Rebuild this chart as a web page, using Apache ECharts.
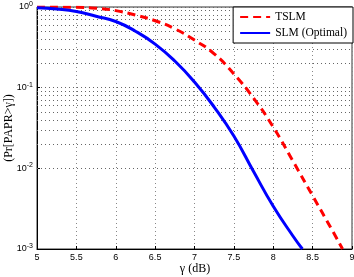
<!DOCTYPE html>
<html>
<head>
<meta charset="utf-8">
<script src="https://cdn.jsdelivr.net/npm/echarts@6/dist/echarts.min.js"></script>
<style>
  html, body { margin: 0; padding: 0; background: #fff; }
  #chart { width: 354px; height: 277px; }
</style>
</head>
<body>
<div id="chart"></div>
<script>
var gammaTslm = [5, 5.5, 5.75, 6, 6.25, 6.5, 6.75, 7, 7.25, 7.5, 7.75, 8, 8.25, 8.5, 8.75, 8.88];
var probTslm = [1.0, 0.991, 0.966, 0.902, 0.794, 0.676, 0.537, 0.389, 0.263, 0.148, 0.0741, 0.0324, 0.0123, 0.00457, 0.0017, 0.001];
var gammaSlm = [5, 5.25, 5.5, 5.75, 6, 6.25, 6.5, 6.75, 7, 7.25, 7.5, 7.75, 8, 8.25, 8.37];
var probSlm = [0.977, 0.944, 0.881, 0.767, 0.661, 0.501, 0.347, 0.214, 0.1175, 0.0575, 0.0251, 0.00912, 0.00339, 0.00145, 0.001];
var yDecades = [0.001, 0.01, 0.1, 1];
var minorMult = [2, 3, 4, 5, 6, 7, 8, 9];
var xTitle = "γ (dB)";
var yTitle = "(Pr[PAPR>γ])";

function pairs(xs, ys) {
  return xs.map(function (x, i) { return [x, ys[i]]; });
}

// minor log grid lines (2..9 x 10^k)
var minorLines = [];
yDecades.slice(0, 3).forEach(function (d) {
  minorMult.forEach(function (m) {
    minorLines.push({ yAxis: d * m });
  });
});

var serif = "'Liberation Serif', 'DejaVu Serif', serif";
var sans = "'Liberation Sans', Arial, sans-serif";

var chart = echarts.init(document.getElementById("chart"));
chart.setOption({
  animation: false,
  grid: {
    left: 37,
    right: 2,
    top: 7,
    bottom: 28,
    outerBoundsMode: "none",
    containLabel: false,
    show: true,
    borderColor: "#333",
    borderWidth: 1,
  },
  graphic: [
    {
      type: "text",
      x: 195,
      y: 269,
      style: { text: xTitle, font: "12px " + serif, fill: "#000", textAlign: "center", textVerticalAlign: "middle" },
    },
    {
      type: "text",
      x: 9,
      y: 128,
      rotation: Math.PI / 2,
      style: { text: yTitle, font: "12px " + serif, fill: "#000", textAlign: "center", textVerticalAlign: "middle" },
    },
  ],
  legend: {
    orient: "vertical",
    right: 1,
    top: 7,
    backgroundColor: "#fff",
    borderColor: "#000",
    borderWidth: 1,
    borderRadius: 0,
    padding: [4, 6, 4, 6],
    itemGap: 4,
    itemWidth: 30,
    itemHeight: 10,
    itemStyle: { opacity: 0 },
    textStyle: { fontFamily: serif, fontSize: 11.5, color: "#000" },
    data: ["TSLM", "SLM (Optimal)"],
  },
  xAxis: {
    type: "value",
    min: 5,
    max: 9,
    interval: 0.5,
    axisLine: { lineStyle: { color: "#000" } },
    axisTick: { inside: true, length: 3, lineStyle: { color: "#000" } },
    axisLabel: { fontFamily: sans, fontSize: 9, color: "#000", margin: 4 },
    splitLine: { show: true, lineStyle: { color: "#888", type: [1, 3] } },
  },
  yAxis: {
    type: "log",
    logBase: 10,
    min: 0.001,
    max: 1,
    interval: 1,
    axisLine: { show: true, lineStyle: { color: "#000" } },
    axisTick: { inside: true, length: 3, lineStyle: { color: "#000" } },
    axisLabel: {
      margin: 4,
      formatter: function (v) {
        var e = Math.round(Math.log10(v));
        return "{b|10}{s|" + e + "}";
      },
      rich: {
        b: { fontFamily: sans, fontSize: 9, color: "#000" },
        s: { fontFamily: sans, fontSize: 7, color: "#000", verticalAlign: "top", padding: [0, 0, 6, 0] },
      },
    },
    splitLine: { show: true, lineStyle: { color: "#666", type: [1, 3] } },
  },
  series: [
    {
      name: "TSLM",
      type: "line",
      data: pairs(gammaTslm, probTslm),
      smooth: true,
      showSymbol: false,
      symbol: "none",
      lineStyle: { color: "#ff0000", width: 3, type: [8, 5] },
      itemStyle: { color: "#ff0000" },
      z: 3,
    },
    {
      name: "SLM (Optimal)",
      type: "line",
      data: pairs(gammaSlm, probSlm),
      smooth: true,
      showSymbol: false,
      symbol: "none",
      lineStyle: { color: "#0000ff", width: 3 },
      itemStyle: { color: "#0000ff" },
      z: 3,
      markLine: {
        silent: true,
        symbol: "none",
        label: { show: false },
        lineStyle: { color: "#666", type: [1, 3], width: 1 },
        data: minorLines,
        z: 1,
      },
    },
  ],
});
</script>
</body>
</html>
